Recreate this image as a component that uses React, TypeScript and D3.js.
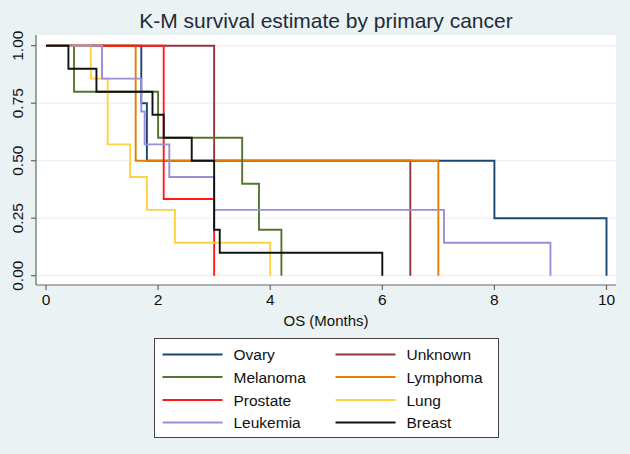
import React from "react";
import * as d3 from "d3";

const seriesNames = ["Ovary", "Unknown", "Melanoma", "Lymphoma", "Prostate", "Lung", "Leukemia", "Breast"];
const seriesColors = ["#1a476f", "#90353b", "#55752f", "#e37e00", "#ff1a1a", "#ffd23f", "#9a8fd6", "#111111"];
const drawOrder = ["Ovary", "Unknown", "Lymphoma", "Prostate", "Melanoma", "Lung", "Leukemia", "Breast"];

const ovaryT = [0, 1.7, 1.8, 8, 10];
const ovaryS = [1, 0.75, 0.5, 0.25, 0];
const unknownT = [0, 3, 6.5];
const unknownS = [1, 0.5, 0];
const melanomaT = [0, 0.5, 2, 3.5, 3.8, 4.2];
const melanomaS = [1, 0.8, 0.6, 0.4, 0.2, 0];
const lymphomaT = [0, 1.6, 7];
const lymphomaS = [1, 0.5, 0];
const prostateT = [0, 2.1, 3];
const prostateS = [1, 0.3333, 0];
const lungT = [0, 0.8, 1.1, 1.5, 1.8, 2.3, 4];
const lungS = [1, 0.857, 0.571, 0.429, 0.286, 0.143, 0];
const leukemiaT = [0, 1, 1.7, 1.76, 2.2, 3, 7.1, 9];
const leukemiaS = [1, 0.857, 0.714, 0.571, 0.429, 0.286, 0.143, 0];
const breastT = [0, 0.4, 0.9, 1.9, 2.1, 2.6, 3, 3.1, 6];
const breastS = [1, 0.9, 0.8, 0.7, 0.6, 0.5, 0.2, 0.1, 0];

const seriesTimes = [ovaryT, unknownT, melanomaT, lymphomaT, prostateT, lungT, leukemiaT, breastT];
const seriesSurv = [ovaryS, unknownS, melanomaS, lymphomaS, prostateS, lungS, leukemiaS, breastS];

const xTicks = [0, 2, 4, 6, 8, 10];
const yTicks = [0, 0.25, 0.5, 0.75, 1];

const W = 630;
const H = 454;
const FONT = "'Liberation Sans', Arial, Helvetica, sans-serif";

export default function App() {
  const plotL = 36, plotR = 616, plotT = 35, plotB = 285;
  const x = d3.scaleLinear().domain([0, 10]).range([46, 606.5]);
  const y = d3.scaleLinear().domain([0, 1]).range([275.7, 45.7]);

  const line = d3
    .line<[number, number]>()
    .x((d) => x(d[0]))
    .y((d) => y(d[1]))
    .curve(d3.curveStepAfter);

  const paths = seriesNames.map((name, i) => {
    const pts: [number, number][] = seriesTimes[i].map((t, j) => [t, seriesSurv[i][j]]);
    return { name, color: seriesColors[i], d: line(pts) || "" };
  });
  const ordered = drawOrder.map((n) => paths.find((p) => p.name === n)!);

  const legL = 154.5, legT = 338.5, legW = 344, legH = 99;
  const rowY = [354.5, 377, 400, 422.5];
  const colX = [162.5, 335.5];

  return (
    <svg
      width={W}
      height={H}
      style={{ position: "absolute", left: 0, top: 0, display: "block" }}
      fontFamily={FONT}
    >
      <rect x={0} y={0} width={W} height={H} fill="#eaf2f3" />
      <rect x={plotL} y={plotT} width={plotR - plotL} height={plotB - plotT} fill="#ffffff" />
      {yTicks.map((t) => (
        <line key={"g" + t} x1={plotL} x2={plotR} y1={y(t)} y2={y(t)} stroke="#eaf2f3" strokeWidth={1.2} />
      ))}
      {ordered.map((p) => (
        <path key={p.name} d={p.d} fill="none" stroke={p.color} strokeWidth={1.9} />
      ))}
      <line x1={plotL} x2={plotL} y1={plotT} y2={plotB} stroke="#666" strokeWidth={1.2} />
      <line x1={plotL} x2={plotR} y1={plotB} y2={plotB} stroke="#666" strokeWidth={1.2} />
      {yTicks.map((t) => (
        <g key={"y" + t}>
          <line x1={plotL - 5} x2={plotL} y1={y(t)} y2={y(t)} stroke="#666" strokeWidth={1.2} />
          <text
            transform={`translate(22.5,${y(t)}) rotate(-90)`}
            textAnchor="middle"
            fontSize={15.5}
            fill="#111"
          >
            {t.toFixed(2)}
          </text>
        </g>
      ))}
      {xTicks.map((t) => (
        <g key={"x" + t}>
          <line x1={x(t)} x2={x(t)} y1={plotB} y2={plotB + 5} stroke="#666" strokeWidth={1.2} />
          <text x={x(t)} y={305} textAnchor="middle" fontSize={15.5} fill="#111">
            {t}
          </text>
        </g>
      ))}
      <text x={(plotL + plotR) / 2} y={326} textAnchor="middle" fontSize={15} fill="#111">
        OS (Months)
      </text>
      <text x={(plotL + plotR) / 2} y={28} textAnchor="middle" fontSize={21} fill="#1e2b3a">
        K-M survival estimate by primary cancer
      </text>
      <rect x={legL} y={legT} width={legW} height={legH} fill="#ffffff" stroke="#444" strokeWidth={1} />
      {paths.map((p, i) => {
        const col = i % 2;
        const row = Math.floor(i / 2);
        const lx = colX[col];
        const ly = rowY[row];
        return (
          <g key={"l" + p.name}>
            <line x1={lx} x2={lx + 60} y1={ly} y2={ly} stroke={p.color} strokeWidth={1.8} />
            <text x={lx + 71} y={ly + 5.5} fontSize={15.5} fill="#111">
              {p.name}
            </text>
          </g>
        );
      })}
    </svg>
  );
}
